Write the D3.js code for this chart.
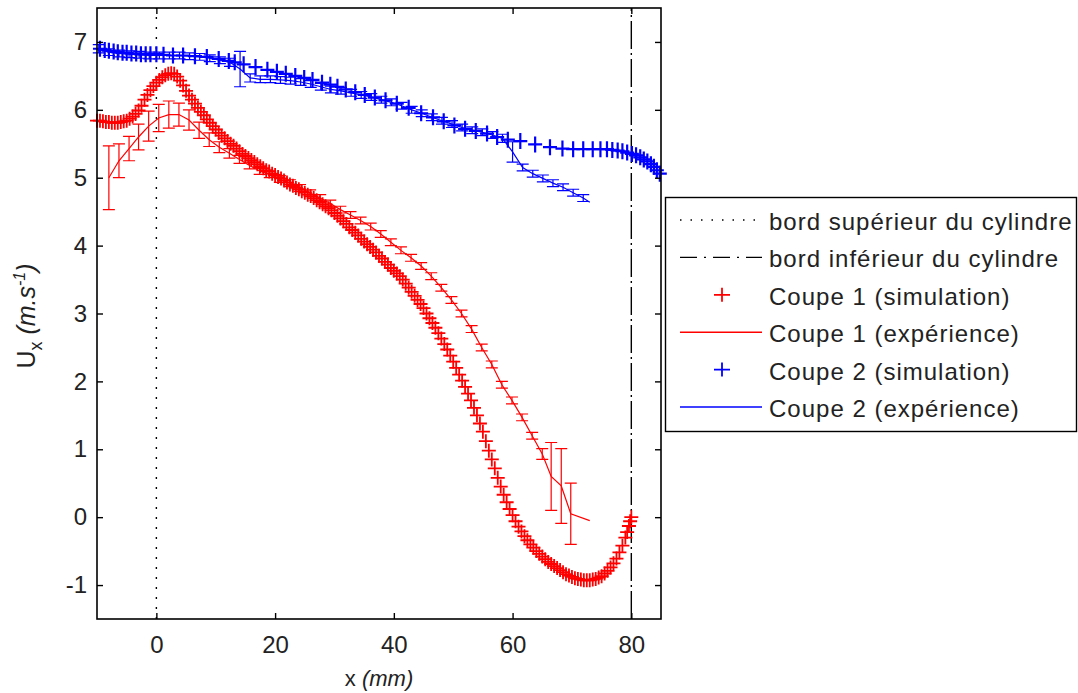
<!DOCTYPE html>
<html><head><meta charset="utf-8">
<script src="https://cdn.jsdelivr.net/npm/d3@7"></script>
<style>body{margin:0;background:#fff}svg{display:block}</style>
</head><body><svg id="c" width="1078" height="693"></svg>
<script>
// ---------- data ----------
const xTicks = [0, 20, 40, 60, 80];
const yTicks = [-1, 0, 1, 2, 3, 4, 5, 6, 7];
const refX = [0, 80];
const legendLabels = ["bord supérieur du cylindre", "bord inférieur du cylindre",
  "Coupe 1 (simulation)", "Coupe 1 (expérience)", "Coupe 2 (simulation)", "Coupe 2 (expérience)"];

// Coupe 1 simulation
const redSimX = [-10,-9.5,-9,-8.5,-8,-7.5,-7,-6.5,-6,-5.5,-5,-4.5,-4,-3.5,-3,-2.5,-2,-1.5,-1,-0.5,
  0,0.5,1,1.5,2,2.5,3,3.5,4,4.5,5,5.5,6,6.5,7,7.5,8,8.5,9,9.5,
  10,10.5,11,11.5,12,12.5,13,13.5,14,14.5,15,15.5,16,16.5,17,17.5,18,18.5,19,19.5,
  20,20.5,21,21.5,22,22.5,23,23.5,24,24.5,25,25.5,26,26.5,27,27.5,28,28.5,29,29.5,
  30,30.5,31,31.5,32,32.5,33,33.5,34,34.5,35,35.5,36,36.5,37,37.5,38,38.5,39,39.5,
  40,40.5,41,41.5,42,42.5,43,43.5,44,44.5,45,45.5,46,46.5,47,47.5,48,48.5,49,49.5,
  50,50.5,51,51.5,52,52.5,53,53.5,54,54.5,55,55.5,56,56.5,57,57.5,58,58.5,59,59.5,
  60,60.5,61,61.5,62,62.5,63,63.5,64,64.5,65,65.5,66,66.5,67,67.5,68,68.5,69,69.5,
  70,70.5,71,71.5,72,72.5,73,73.5,74,74.5,75,75.5,76,76.5,77,77.5,78,78.5,79,79.3,79.6,79.8,80];
const redSimY = [5.84,5.84,5.83,5.82,5.82,5.81,5.81,5.81,5.82,5.83,5.84,5.87,5.9,5.94,5.99,6.06,6.15,6.22,6.29,6.35,
  6.4,6.44,6.48,6.51,6.53,6.54,6.53,6.49,6.43,6.36,6.28,6.21,6.15,6.09,6.03,5.97,5.92,5.86,5.81,5.76,
  5.71,5.66,5.62,5.58,5.54,5.5,5.47,5.43,5.39,5.35,5.32,5.29,5.26,5.23,5.2,5.17,5.14,5.11,5.09,5.06,
  5.04,5.01,4.99,4.96,4.93,4.9,4.88,4.85,4.83,4.8,4.78,4.75,4.73,4.7,4.67,4.64,4.61,4.58,4.55,4.52,
  4.48,4.44,4.4,4.36,4.32,4.27,4.23,4.19,4.15,4.1,4.06,4.02,3.98,3.94,3.9,3.85,3.81,3.76,3.72,3.67,
  3.63,3.59,3.55,3.5,3.44,3.38,3.32,3.26,3.2,3.14,3.08,3.0,2.93,2.86,2.79,2.71,2.63,2.55,2.47,2.38,
  2.29,2.2,2.1,2.01,1.92,1.82,1.72,1.61,1.5,1.38,1.26,1.12,0.98,0.85,0.72,0.58,0.45,0.33,0.22,0.12,
  0.03,-0.06,-0.14,-0.21,-0.28,-0.34,-0.4,-0.45,-0.5,-0.54,-0.58,-0.62,-0.66,-0.69,-0.72,-0.75,-0.78,-0.81,-0.84,-0.86,
  -0.88,-0.9,-0.91,-0.92,-0.93,-0.93,-0.93,-0.92,-0.91,-0.89,-0.87,-0.83,-0.79,-0.74,-0.68,-0.61,-0.52,-0.42,-0.3,-0.22,-0.13,-0.06,0.0];

// Coupe 1 experiment (value and error half-width)
const redExpX = [-8,-6.3,-4.6,-3,-1.3,0.4,2.1,3.8,5.5,7.2,8.9,10.6,12.3,14,15.7,17.4,19.1,20.8,22.5,24.2,
  25.9,27.6,29.3,31,32.7,34.4,36.1,37.8,39.5,41.2,42.9,44.6,46.3,48,49.7,51.4,53.1,54.8,56.5,58.2,
  59.9,61.6,63.3,65,66.5,68.2,69.8,73];
const redExpY = [5.0,5.25,5.43,5.6,5.76,5.88,5.93,5.93,5.85,5.7,5.56,5.45,5.36,5.27,5.18,5.1,5.05,4.98,4.92,4.85,
  4.77,4.7,4.62,4.53,4.45,4.37,4.28,4.17,4.05,3.93,3.82,3.7,3.55,3.38,3.2,3.0,2.77,2.5,2.25,1.95,
  1.72,1.47,1.2,0.93,0.6,0.46,0.05,-0.05];
const redExpErr = [0.47,0.25,0.18,0.19,0.22,0.2,0.2,0.17,0.15,0.12,0.1,0.08,0.07,0.06,0.05,0.05,0.05,0.05,0.05,0.05,
  0.05,0.05,0.05,0.05,0.05,0.05,0.05,0.05,0.05,0.05,0.05,0.05,0.05,0.05,0.05,0.05,0.05,0.05,0.05,0.05,
  0.05,0.05,0.05,0.08,0.5,0.55,0.45,0];

// Coupe 2 simulation
const blueSimX = [-9.5,-8.7,-8,-7.2,-6.5,-5.7,-5,-4.2,-3.4,-2.6,-1.8,-1,0,1.2,2.8,4.5,6.5,8.5,10.5,12.2,13.2,14.7,16.7,18.7,20.3,
  21.8,23.4,24.9,26.3,27.9,29.3,30.5,31.9,33.5,35.1,36.8,38.6,40.5,42.5,44.6,46.6,48.4,50.2,52,53.8,55.7,
  57.4,59.2,61.3,63.8,66.3,68.4,70.2,71.9,73.5,74.8,75.9,76.8,77.7,78.5,79.3,80.1,80.8,81.5,82.1,82.7,
  83.3,83.8,84.3,84.8];
const blueSimY = [6.9,6.88,6.87,6.86,6.85,6.84,6.84,6.83,6.83,6.82,6.82,6.82,6.82,6.81,6.8,6.8,6.79,6.78,6.75,6.72,6.7,6.67,6.63,6.59,6.56,
  6.53,6.5,6.47,6.44,6.4,6.37,6.34,6.3,6.26,6.22,6.18,6.14,6.09,6.03,5.95,5.89,5.83,5.77,5.72,5.69,5.65,
  5.6,5.56,5.54,5.49,5.45,5.43,5.42,5.42,5.42,5.42,5.42,5.41,5.4,5.39,5.37,5.35,5.33,5.3,5.27,5.24,
  5.2,5.16,5.11,5.06];

// Coupe 2 experiment
const blueExpX = [-9.7,-8,-6.3,-4.6,-2.9,-1.2,0.5,2.2,3.9,5.6,7.3,9,10.7,12.4,14.1,15.8,17.5,19.2,20.9,22.6,
  24.3,26,27.7,29.4,31.1,32.8,34.5,36.2,37.9,39.6,41.3,43,44.7,46.4,48.1,49.8,51.5,53.2,54.9,56.6,
  58.3,60,61.7,63.4,65.1,66.8,68.5,70.2,71.9,73];
const blueExpY = [6.9,6.85,6.83,6.82,6.81,6.8,6.8,6.8,6.8,6.79,6.78,6.76,6.73,6.7,6.6,6.47,6.45,6.45,6.44,6.43,
  6.41,6.38,6.34,6.3,6.28,6.25,6.22,6.19,6.15,6.11,6.06,6.0,5.95,5.89,5.84,5.79,5.74,5.7,5.67,5.63,
  5.58,5.38,5.15,5.06,4.99,4.92,4.86,4.78,4.7,4.64];
const blueExpErr = [0.06,0.05,0.05,0.05,0.05,0.05,0.05,0.05,0.05,0.05,0.05,0.05,0.05,0.06,0.26,0.06,0.05,0.05,0.05,0.05,
  0.05,0.05,0.05,0.05,0.05,0.05,0.05,0.05,0.05,0.05,0.05,0.05,0.05,0.05,0.05,0.05,0.05,0.05,0.05,0.05,
  0.06,0.15,0.05,0.05,0.05,0.05,0.05,0.05,0.05,0];

// ---------- drawing ----------
const RED = "#ff0000", BLUE = "#0000ff";
const FONT = "'Liberation Sans', Arial, Helvetica, sans-serif";
const svg = d3.select("#c");
const L = 97, R = 661, T = 8, B = 619;
const x = d3.scaleLinear().domain([-10, 85]).range([L, R]);
const y = d3.scaleLinear().domain([-1.5, 7.5]).range([B, T]);

svg.append("rect").attr("width", 1078).attr("height", 693).attr("fill", "#fff");

// reference lines
const refStyles = [{dash: "2,8"}, {dash: "28,4,2,4"}];
refX.forEach((v, i) => {
  svg.append("line").attr("x1", x(v)).attr("x2", x(v)).attr("y1", B).attr("y2", T)
    .attr("stroke", "#000").attr("stroke-width", 1.4).attr("stroke-dasharray", refStyles[i].dash);
});

function plusPath(px, py, h, v) { return `M${px - h},${py}H${px + h}M${px},${py - (v || h)}V${py + (v || h)}`; }

function drawSim(xs, ys, color, h, v, sw) {
  const g = svg.append("g").attr("stroke", color).attr("stroke-width", sw).attr("fill", "none");
  g.selectAll("path").data(xs.map((d, i) => [d, ys[i]])).join("path")
    .attr("d", d => plusPath(x(d[0]), y(d[1]), h, v));
}
function drawExp(xs, ys, es, color) {
  const pts = xs.map((d, i) => ({x: d, y: ys[i], e: es[i]}));
  const g = svg.append("g").attr("stroke", color).attr("stroke-width", 1.2).attr("fill", "none");
  g.append("path").attr("d", d3.line().x(d => x(d.x)).y(d => y(d.y))(pts));
  const cw = 6;
  g.selectAll("path.eb").data(pts.filter(d => d.e > 0)).join("path").attr("class", "eb")
    .attr("d", d => {
      const px = x(d.x), y1 = y(d.y - d.e), y2 = y(d.y + d.e);
      return `M${px},${y1}V${y2}M${px - cw},${y1}H${px + cw}M${px - cw},${y2}H${px + cw}`;
    });
}

drawSim(redSimX, redSimY, RED, 7, 7, 1.8);
drawExp(redExpX, redExpY, redExpErr, RED);
drawSim(blueSimX, blueSimY, BLUE, 7, 8, 2.2);
drawExp(blueExpX, blueExpY, blueExpErr, BLUE);

// axes
const axG = svg.append("g").attr("font-family", FONT);
const fmt = d => String(d);
const ax = axG.append("g").attr("transform", `translate(0,${B})`)
  .call(d3.axisBottom(x).tickValues(xTicks).tickFormat(fmt).tickSize(-6).tickPadding(17).tickSizeOuter(0));
const axT = axG.append("g").attr("transform", `translate(0,${T})`)
  .call(d3.axisTop(x).tickValues(xTicks).tickSize(-6).tickFormat("").tickSizeOuter(0));
const ay = axG.append("g").attr("transform", `translate(${L},0)`)
  .call(d3.axisLeft(y).tickValues(yTicks).tickFormat(fmt).tickSize(-6).tickPadding(10).tickSizeOuter(0));
const ayR = axG.append("g").attr("transform", `translate(${R},0)`)
  .call(d3.axisRight(y).tickValues(yTicks).tickSize(-6).tickFormat("").tickSizeOuter(0));
[ax, axT, ay, ayR].forEach(g => {
  g.select(".domain").remove();
  g.selectAll("line").attr("stroke", "#000").attr("stroke-width", 1.4);
  g.selectAll("text").attr("font-size", 24).attr("fill", "#222").attr("font-family", FONT);
});
svg.append("rect").attr("x", L).attr("y", T).attr("width", R - L).attr("height", B - T)
  .attr("fill", "none").attr("stroke", "#000").attr("stroke-width", 1.6);

// axis titles
const xl = svg.append("text").attr("x", (L + R) / 2).attr("y", 686).attr("text-anchor", "middle")
  .attr("font-family", FONT).attr("font-size", 22).attr("fill", "#222");
xl.append("tspan").text("x ");
xl.append("tspan").attr("font-style", "italic").text("(mm)");

const yl = svg.append("text").attr("transform", "translate(35,316) rotate(-90)").attr("text-anchor", "middle")
  .attr("font-family", FONT).attr("font-size", 25).attr("fill", "#222");
yl.append("tspan").text("U");
yl.append("tspan").attr("font-size", 18).attr("dy", 7).text("x");
yl.append("tspan").attr("dy", -7).text(" ");
yl.append("tspan").attr("font-style", "italic").text("(m.s");
yl.append("tspan").attr("font-style", "italic").attr("font-size", 16).attr("dy", -10).text("-1");
yl.append("tspan").attr("font-style", "italic").attr("dy", 10).text(")");

// legend
const lg = svg.append("g");
lg.append("rect").attr("x", 665.5).attr("y", 197.5).attr("width", 411).attr("height", 234)
  .attr("fill", "#fff").attr("stroke", "#000").attr("stroke-width", 1.4);
const legendItems = [
  {kind: "line", color: "#000", dash: "1.5,9"},
  {kind: "line", color: "#000", dash: "17,7,2,7"},
  {kind: "plus", color: RED},
  {kind: "line", color: RED},
  {kind: "plus", color: BLUE},
  {kind: "line", color: BLUE}
];
legendItems.forEach((it, i) => {
  const base = 230 + 37.4 * i, cy = base - 10;
  if (it.kind === "line") {
    lg.append("line").attr("x1", 680).attr("x2", 762).attr("y1", cy).attr("y2", cy)
      .attr("stroke", it.color).attr("stroke-width", 1.4).attr("stroke-dasharray", it.dash || null);
  } else {
    lg.append("path").attr("d", plusPath(722, cy, 8, 7)).attr("stroke", it.color).attr("stroke-width", 1.8);
  }
  lg.append("text").attr("x", 769).attr("y", base).attr("font-family", FONT).attr("font-size", 24)
    .attr("letter-spacing", 1).attr("fill", "#222").text(legendLabels[i]);
});
</script>
</body></html>
